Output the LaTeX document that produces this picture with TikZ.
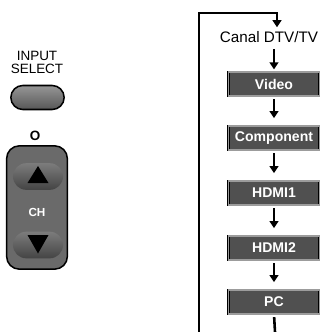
\documentclass[tikz,border=0pt]{standalone}
\usepackage{fontspec}
\setmainfont{Liberation Sans}
\usetikzlibrary{arrows.meta,shapes}
\definecolor{boxgray}{HTML}{505050}
\definecolor{rimgray}{HTML}{9C9C9C}
\definecolor{bodygray}{HTML}{6A6A6A}
\definecolor{btngray}{HTML}{7C7C7C}

\tikzset{
  src/.style={rectangle, fill=boxgray, draw=black, double=rimgray,
    double distance=1.4pt, line width=0.4pt, minimum width=2.72cm,
    minimum height=0.72cm, inner sep=0pt, text=white,
    font=\bfseries\fontsize{12}{12}\selectfont},
  flow/.style={line width=2.2pt, -{Triangle[width=7.5pt,length=6pt]}},
  keypill/.style={rounded rectangle, draw=black, line width=1.3pt,
    inner sep=0pt},
}

\begin{document}
\begin{tikzpicture}[x=0.03cm,y=-0.03cm]
\useasboundingbox (0,0) rectangle (320,332);

% remote keys
\node[align=center, inner sep=0pt,
  font=\fontsize{11.5}{11}\selectfont] (insel) at (37,62) {INPUT\\SELECT};
\node[keypill, top color=btngray!80!white, bottom color=btngray!70!black,
  minimum width=1.6cm, minimum height=0.72cm] (inbtn) at (37.5,97.5) {};
\node[font=\bfseries\fontsize{11.5}{11.5}\selectfont] (ocirc) at (35,135.5) {O};
\node[rectangle, rounded corners=0.38cm, draw=black, line width=1.3pt,
  fill=bodygray, minimum width=1.82cm, minimum height=3.7cm] (chbody) at (37,207.5) {};
\node[rounded rectangle, inner sep=0pt, top color=btngray, bottom color=btngray!55!black,
  minimum width=1.5cm, minimum height=0.8cm] (chup) at (38,176.5) {};
\node[rounded rectangle, inner sep=0pt, top color=btngray, bottom color=btngray!55!black,
  minimum width=1.5cm, minimum height=0.8cm] (chdown) at (38,245) {};
\fill ([shift={(0,-10.5)}]chup.center) -- ([shift={(10.5,6.5)}]chup.center)
  -- ([shift={(-10.5,6.5)}]chup.center) -- cycle;
\fill ([shift={(0,8.5)}]chdown.center) -- ([shift={(10.5,-10)}]chdown.center)
  -- ([shift={(-10.5,-10)}]chdown.center) -- cycle;
\node[text=white, font=\bfseries\fontsize{10}{10}\selectfont] (chtxt) at (37,212) {CH};

% input cycle
\node[font=\fontsize{13}{13}\selectfont] (canal) at (269,37) {Canal DTV/TV};
\node[src] (video) at (274,84) {Video};
\node[src] (comp) at (274,138) {Component};
\node[src] (hdmione) at (274,193) {HDMI1};
\node[src] (hdmitwo) at (274,248) {HDMI2};
\node[src] (pc) at (274,302) {PC};
\coordinate (lbot) at (199,332);
\coordinate (ltop) at (199,13);
\coordinate (rtop) at (277,13);
\coordinate (pcbot) at (275,332);

\draw[flow] (lbot) -- (ltop) -- (rtop) -- (rtop |- canal.north);
\draw[flow, shorten <=2pt, shorten >=2pt] (canal.south -| video.north) -- (video.north);
\draw[flow, shorten <=2.5pt, shorten >=6.5pt] (video) -- (comp);
\draw[flow, shorten <=2.5pt, shorten >=6.5pt] (comp) -- (hdmione);
\draw[flow, shorten <=2.5pt, shorten >=6.5pt] (hdmione) -- (hdmitwo);
\draw[flow, shorten <=2.5pt, shorten >=6.5pt] (hdmitwo) -- (pc);
\draw[line width=2.2pt, shorten <=2.5pt] (pc.south) -- (pcbot);
\end{tikzpicture}
\end{document}
